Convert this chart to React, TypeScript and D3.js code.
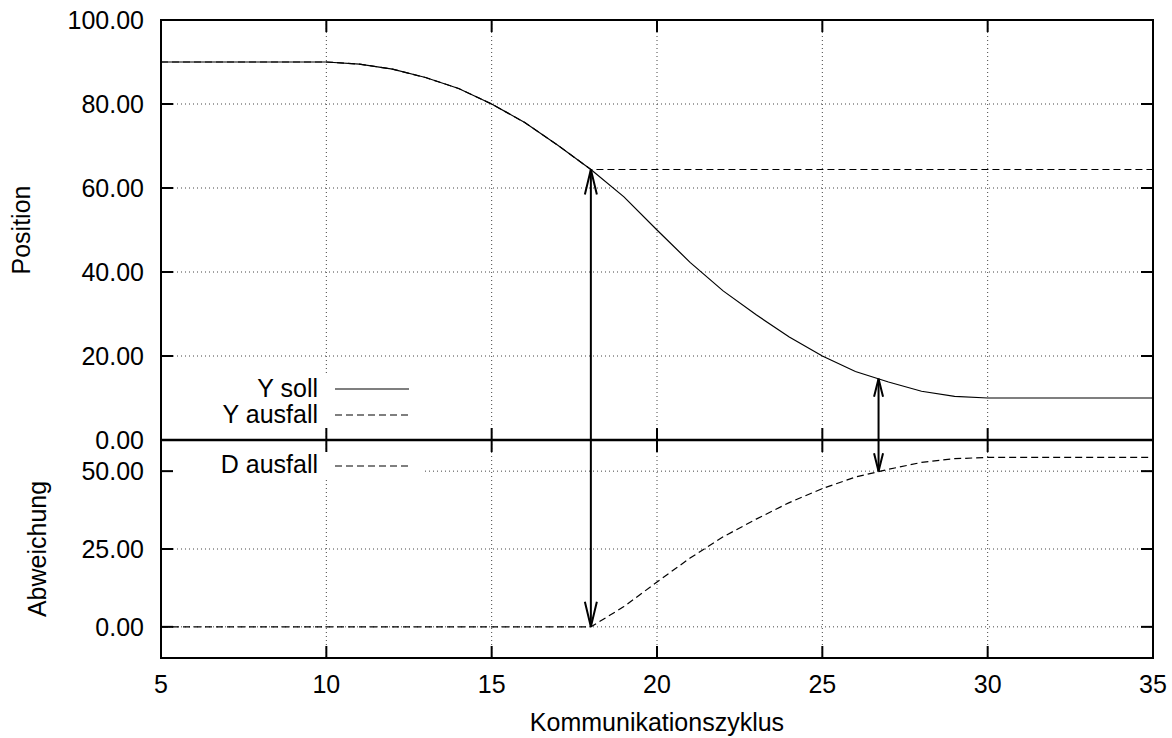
import * as d3 from 'd3'

const cycles = [5,6,7,8,9,10,11,12,13,14,15,16,17,18,19,20,21,22,23,24,25,26,27,28,29,30,31,32,33,34,35]
const ySoll = [90,90,90,90,90,90,89.5,88.3,86.3,83.7,80,75.6,70.2,64.4,57.9,50,42.3,35.5,29.8,24.5,20,16.3,13.8,11.6,10.4,10,10,10,10,10,10]
const yAusfall = [90,90,90,90,90,90,89.5,88.3,86.3,83.7,80,75.6,70.2,64.4,64.4,64.4,64.4,64.4,64.4,64.4,64.4,64.4,64.4,64.4,64.4,64.4,64.4,64.4,64.4,64.4,64.4]
const dAusfall = [0,0,0,0,0,0,0,0,0,0,0,0,0,0,6.5,14.4,22.1,28.9,34.6,39.9,44.4,48.1,50.6,52.8,54.0,54.4,54.4,54.4,54.4,54.4,54.4]

const xTicks = [5,10,15,20,25,30,35]
const topTicks = [0,20,40,60,80,100]
const botTicks = [0,25,50]

// arrows: x position, top-panel value, bottom-panel value
const arrowX = [18, 26.7]
const arrowTop = [64.4, 14.6]
const arrowBot = [0, 50]

const W = 1172, H = 738
const L = 161, R = 1153, T = 20, MID = 440, B = 658
const FONT = 'Liberation Sans, Arial, Helvetica, sans-serif'
const TL = 12

export default function App() {
  const x = d3.scaleLinear().domain([5, 35]).range([L, R])
  const yT = d3.scaleLinear().domain([0, 100]).range([MID, T])
  const yB = d3.scaleLinear().domain([-10, 60]).range([B, MID])
  const fmt = d3.format('.2f')

  const lineT = d3.line<number>().x((_, i) => x(cycles[i])).y(d => yT(d))
  const lineB = d3.line<number>().x((_, i) => x(cycles[i])).y(d => yB(d))

  const grid = { stroke: '#444', strokeWidth: 1, strokeDasharray: '1,3' }

  const head = (px: number, py: number, dir: number, len: number, hw: number) =>
    `M${px - hw},${py + dir * len}L${px},${py}L${px + hw},${py + dir * len}`

  return (
    <svg width={W} height={H} style={{ position: 'absolute', left: 0, top: 0, background: '#fff' }} fontFamily={FONT}>
      {/* grid */}
      {xTicks.slice(1, -1).map(t => (
        <g key={'gx' + t}>
          <line x1={x(t)} x2={x(t)} y1={T} y2={MID} {...grid} />
          <line x1={x(t)} x2={x(t)} y1={MID} y2={B} {...grid} />
        </g>
      ))}
      {topTicks.slice(1, -1).map(t => <line key={'gt' + t} x1={L} x2={R} y1={yT(t)} y2={yT(t)} {...grid} />)}
      {botTicks.map(t => <line key={'gb' + t} x1={L} x2={R} y1={yB(t)} y2={yB(t)} {...grid} />)}

      {/* legend boxes (opaque) */}
      <rect x={L + 1} y={376} width={261} height={52} fill="#fff" />
      <rect x={L + 1} y={452} width={261} height={28} fill="#fff" />

      {/* curves */}
      <path d={lineT(ySoll) || ''} fill="none" stroke="#000" strokeWidth={1.2} />
      <path d={lineT(yAusfall) || ''} fill="none" stroke="#000" strokeWidth={1.2} strokeDasharray="7,4" />
      <path d={lineB(dAusfall) || ''} fill="none" stroke="#000" strokeWidth={1.2} strokeDasharray="7,4" />

      {/* ticks */}
      {xTicks.map(t => (
        <g key={'tx' + t} stroke="#000" strokeWidth={2}>
          <line x1={x(t)} x2={x(t)} y1={T} y2={T + TL} />
          <line x1={x(t)} x2={x(t)} y1={MID - TL} y2={MID + TL} />
          <line x1={x(t)} x2={x(t)} y1={B - TL} y2={B} />
        </g>
      ))}
      {topTicks.map(t => (
        <g key={'tt' + t} stroke="#000" strokeWidth={2}>
          <line x1={L} x2={L + TL} y1={yT(t)} y2={yT(t)} />
          <line x1={R - TL} x2={R} y1={yT(t)} y2={yT(t)} />
        </g>
      ))}
      {botTicks.map(t => (
        <g key={'tb' + t} stroke="#000" strokeWidth={2}>
          <line x1={L} x2={L + TL} y1={yB(t)} y2={yB(t)} />
          <line x1={R - TL} x2={R} y1={yB(t)} y2={yB(t)} />
        </g>
      ))}

      {/* frames */}
      <rect x={L} y={T} width={R - L} height={B - T} fill="none" stroke="#000" strokeWidth={2} />
      <line x1={L} x2={R} y1={MID} y2={MID} stroke="#000" strokeWidth={2.5} />

      {/* arrows */}
      {arrowX.map((ax, i) => {
        const len = i === 0 ? 25 : 18
        const hw = i === 0 ? 6 : 4.5
        const y1 = yT(arrowTop[i]), y2 = yB(arrowBot[i])
        return (
          <g key={'ar' + i} fill="none" stroke="#000" strokeWidth={2}>
            <line x1={x(ax)} x2={x(ax)} y1={y1} y2={y2} />
            <path d={head(x(ax), y1, 1, len, hw)} />
            <path d={head(x(ax), y2, -1, len, hw)} />
          </g>
        )
      })}

      {/* tick labels */}
      <g fontSize={25} fill="#000">
        {topTicks.map(t => <text key={'lt' + t} x={144} y={yT(t) + 9} textAnchor="end">{fmt(t)}</text>)}
        {botTicks.map(t => <text key={'lb' + t} x={144} y={yB(t) + 9} textAnchor="end">{fmt(t)}</text>)}
        {xTicks.map(t => <text key={'lx' + t} x={x(t)} y={693} textAnchor="middle">{t}</text>)}
        <text x={(L + R) / 2} y={731} textAnchor="middle">Kommunikationszyklus</text>
        <text transform={`translate(30,${(T + MID) / 2}) rotate(-90)`} textAnchor="middle">Position</text>
        <text transform={`translate(46,549) rotate(-90)`} textAnchor="middle">Abweichung</text>

        {/* legends */}
        <text x={318} y={397} textAnchor="end">Y soll</text>
        <text x={318} y={423} textAnchor="end">Y ausfall</text>
        <text x={318} y={473} textAnchor="end">D ausfall</text>
      </g>
      <line x1={335} x2={409} y1={389} y2={389} stroke="#000" strokeWidth={1.2} />
      <line x1={335} x2={409} y1={415} y2={415} stroke="#000" strokeWidth={1.2} strokeDasharray="7,4" />
      <line x1={335} x2={409} y1={466} y2={466} stroke="#000" strokeWidth={1.2} strokeDasharray="7,4" />
    </svg>
  )
}
